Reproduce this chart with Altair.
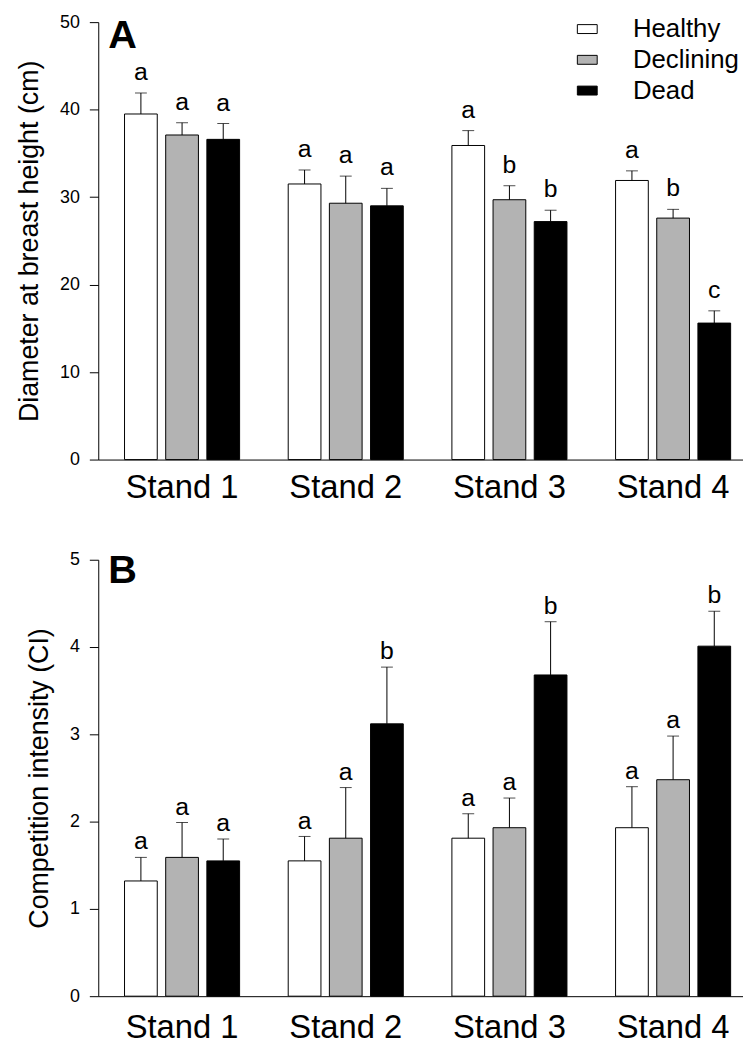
import altair as alt
import pandas as pd

stands = ["Stand 1", "Stand 2", "Stand 3", "Stand 4"]
statuses = ["Healthy", "Declining", "Dead"]
fill_colors = ["#ffffff", "#b3b3b3", "#000000"]

# Panel A: diameter at breast height (mean, SE), order: stand x status
dbh_mean = [39.5, 37.1, 36.6, 31.5, 29.3, 29.0, 35.9, 29.7, 27.2, 31.9, 27.6, 15.6]
dbh_se = [2.4, 1.4, 1.8, 1.6, 3.1, 2.0, 1.7, 1.6, 1.3, 1.1, 1.0, 1.4]
dbh_letters = ["a", "a", "a", "a", "a", "a", "a", "b", "b", "a", "b", "c"]

# Panel B: competition intensity (mean, SE)
ci_mean = [1.32, 1.59, 1.55, 1.55, 1.81, 3.12, 1.81, 1.93, 3.68, 1.93, 2.48, 4.01]
ci_se = [0.27, 0.40, 0.25, 0.28, 0.58, 0.65, 0.28, 0.34, 0.61, 0.47, 0.50, 0.40]
ci_letters = ["a", "a", "a", "a", "a", "b", "a", "a", "b", "a", "a", "b"]

rows = []
for i, s in enumerate(stands):
    for j, st in enumerate(statuses):
        k = i * 3 + j
        rows.append({
            "stand": s, "status": st,
            "dbh": dbh_mean[k], "dbh_top": dbh_mean[k] + dbh_se[k], "dbh_let": dbh_letters[k],
            "ci": ci_mean[k], "ci_top": ci_mean[k] + ci_se[k], "ci_let": ci_letters[k],
        })
df = pd.DataFrame(rows)

FONT = "Liberation Sans"
W = 650


def panel(val, top, let, ymax, step, ytitle, letter, label_dy, letter_y, height, legend, xpad):
    xscale = alt.Scale(domain=stands, paddingInner=0.297, paddingOuter=0.118, align=0.68, round=False)
    xoff = alt.Scale(domain=statuses, paddingInner=0.205, paddingOuter=0, round=False)
    base = alt.Chart(df).encode(
        x=alt.X("stand:N", scale=xscale, sort=stands,
                axis=alt.Axis(title=None, ticks=False, labelAngle=0, labelFontSize=33,
                              labelPadding=xpad, domainColor="black", labelColor="black")),
        xOffset=alt.XOffset("status:N", scale=xoff, sort=statuses),
    )
    yvals = [round(v * step, 6) for v in range(int(round(ymax / step)) + 1)]

    def yenc(field):
        return alt.Y(f"{field}:Q", scale=alt.Scale(domain=[0, ymax], nice=False),
                     axis=alt.Axis(values=yvals, title=ytitle, tickSize=9, labelFontSize=18,
                                   labelPadding=10, titleFontSize=27, titlePadding=16,
                                   titleFontWeight="normal", domainColor="black",
                                   tickColor="black", labelColor="black", titleColor="black"))

    bars = base.mark_bar(stroke="black", strokeWidth=1).encode(
        y=yenc(val),
        color=alt.Color("status:N", scale=alt.Scale(domain=statuses, range=fill_colors),
                        sort=statuses, legend=legend),
    )
    rules = base.mark_rule(color="black", strokeWidth=1).encode(y=yenc(val), y2=f"{top}:Q")
    caps = base.mark_tick(color="black", thickness=1, size=12, orient="horizontal").encode(
        y=yenc(top))
    texts = base.mark_text(fontSize=25, baseline="alphabetic", dy=label_dy, color="black",
                           font=FONT).encode(y=yenc(top), text=f"{let}:N")
    tag = alt.Chart(pd.DataFrame({"t": [letter]})).mark_text(
        fontSize=40, fontWeight="bold", align="left", baseline="alphabetic", color="black",
        font=FONT).encode(x=alt.value(10), y=alt.value(letter_y), text="t:N")
    return alt.layer(bars, rules, caps, texts, tag).properties(width=W, height=height)


legendA = alt.Legend(orient="none", legendX=480, legendY=-6, title=None,
                     symbolType="M-1,-0.45H1V0.45H-1Z", symbolSize=400,
                     symbolStrokeColor="black", symbolStrokeWidth=1, symbolOpacity=1,
                     labelFontSize=26, labelFont=FONT, labelColor="black",
                     labelOffset=33, rowPadding=5)

pA = panel("dbh", "dbh_top", "dbh_let", 50, 10, "Diameter at breast height (cm)", "A", -13, 26, 441, legendA, 12)
pB = panel("ci", "ci_top", "ci_let", 5, 1, "Competition intensity (CI)", "B", -8, 23, 440, None, 16)

chart = alt.vconcat(pA, pB, spacing=47).resolve_scale(color="independent").resolve_legend(
    color="independent").properties(
    padding={"left": 7, "top": 1, "right": 0, "bottom": 0}
).configure(font=FONT).configure_view(stroke=None).configure_axis(
    grid=False, labelFont=FONT, titleFont=FONT
)

chart.save("out.html", embed_options={"renderer": "svg", "actions": False})
